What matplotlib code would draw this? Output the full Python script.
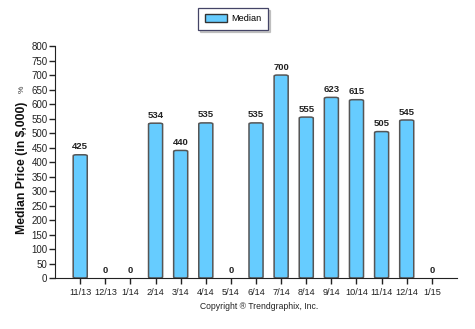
import matplotlib.pyplot as plt
from matplotlib.patches import FancyBboxPatch

plt.rcParams["font.family"] = ["Liberation Sans", "DejaVu Sans"]

months = ["11/13", "12/13", "1/14", "2/14", "3/14", "4/14", "5/14", "6/14",
          "7/14", "8/14", "9/14", "10/14", "11/14", "12/14", "1/15"]
median = [425, 0, 0, 534, 440, 535, 0, 535, 700, 555, 623, 615, 505, 545, 0]
yticks = list(range(0, 801, 50))

fig = plt.figure(figsize=(4.75, 3.29), dpi=100)
ax = fig.add_axes([0.116, 0.155, 0.846, 0.705])

pos = list(range(1, len(months) + 1))
bars = ax.bar(pos, median, width=0.56, color="#66ccff", edgecolor="#555555",
              linewidth=1.1, label="Median")

# swap the square bars for rounded ones of the same geometry
for b in bars:
    b.set_visible(False)
    if b.get_height() <= 0:
        continue
    rp = FancyBboxPatch((b.get_x(), b.get_y()), b.get_width(), b.get_height(),
                        boxstyle="round,pad=0,rounding_size=0.12",
                        mutation_aspect=30,
                        facecolor="#66ccff", edgecolor="#555555", linewidth=1.1)
    ax.add_patch(rp)

for p, v in zip(pos, median):
    ax.text(p, v + 12, str(v), ha="center", va="bottom", fontsize=6.8,
            fontweight="bold", color="#222222")

ax.set_xlim(0, 16)
ax.set_ylim(0, 800)
ax.set_xticks(pos)
ax.set_xticklabels(months)
ax.set_yticks(yticks)
ax.tick_params(axis="both", colors="#222222", length=4, width=1)
ax.tick_params(axis="x", labelsize=6.6, pad=3)
ax.tick_params(axis="y", labelsize=7, pad=1.5)
for s in ("top", "right"):
    ax.spines[s].set_visible(False)
ax.spines["left"].set_color("#222222")
ax.spines["bottom"].set_color("#222222")

# axis title: bold text followed by a small plain percent sign
fig.text(0.047, 0.49, "Median Price (in $,000)", rotation=90, ha="center",
         va="center", fontsize=8.8, fontweight="bold", color="#111111")
fig.text(0.047, 0.728, "%", rotation=90, ha="center", va="center",
         fontsize=6, color="#333333")

handle = plt.Rectangle((0, 0), 1, 1, facecolor="#66ccff", edgecolor="#333333")
leg = fig.legend([handle], ["Median"], loc="center", bbox_to_anchor=(0.491, 0.943),
                 fontsize=6.6, frameon=True, fancybox=False,
                 shadow={"ox": 1.5, "oy": -1.5, "color": "#999999"},
                 handlelength=2.4, handleheight=0.9, borderpad=0.7,
                 handletextpad=0.5)
leg.get_frame().set_edgecolor("#444466")
leg.get_frame().set_linewidth(0.9)

fig.text(0.545, 0.062, "Copyright \u00ae Trendgraphix, Inc.", ha="center",
         fontsize=6.2, color="#222222")

fig.savefig("out.png", dpi=100)
